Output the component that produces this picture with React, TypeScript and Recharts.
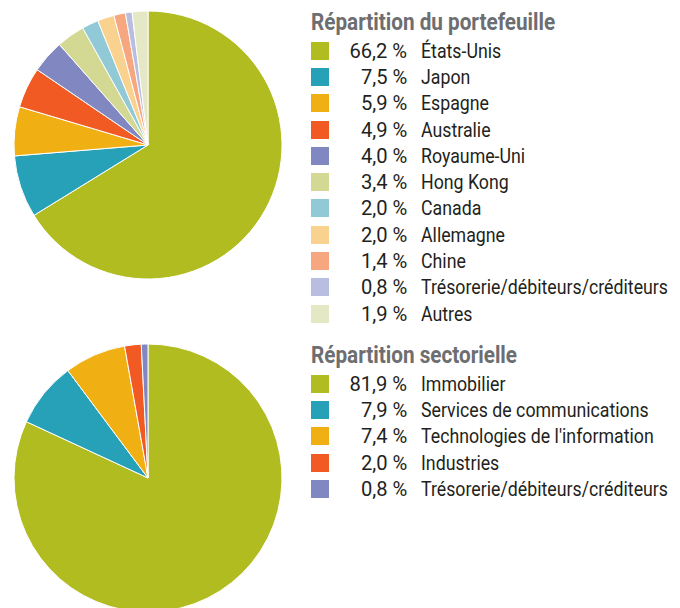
import { PieChart, Pie, Cell } from "recharts";

const countryNames = [
  "États-Unis",
  "Japon",
  "Espagne",
  "Australie",
  "Royaume-Uni",
  "Hong Kong",
  "Canada",
  "Allemagne",
  "Chine",
  "Trésorerie/débiteurs/créditeurs",
  "Autres",
];
const countryValues = [66.2, 7.5, 5.9, 4.9, 4.0, 3.4, 2.0, 2.0, 1.4, 0.8, 1.9];
const countryColors = [
  "#B1BC21",
  "#27A1B8",
  "#F0B013",
  "#F15A22",
  "#8087C1",
  "#D3D892",
  "#91C9D7",
  "#F8D28E",
  "#F7A77F",
  "#B9BDE0",
  "#E5E8C4",
];

const sectorNames = [
  "Immobilier",
  "Services de communications",
  "Technologies de l'information",
  "Industries",
  "Trésorerie/débiteurs/créditeurs",
];
const sectorValues = [81.9, 7.9, 7.4, 2.0, 0.8];
const sectorColors = ["#B1BC21", "#27A1B8", "#F0B013", "#F15A22", "#8087C1"];

const countryData = countryNames.map((name, i) => ({ name, value: countryValues[i] }));
const sectorData = sectorNames.map((name, i) => ({ name, value: sectorValues[i] }));

const fmt = (v: number) => v.toFixed(1).replace(".", ",") + " %";

const FONT = "Roboto, sans-serif";

type LegendProps = {
  title: string;
  names: string[];
  values: number[];
  colors: string[];
  top: number;
};

// the original uses a condensed face, so squeeze Roboto horizontally
const LegendBlock = ({ title, names, values, colors, top }: LegendProps) => (
  <div style={{ position: "absolute", left: 311, top, fontFamily: FONT }}>
    <div
      style={{
        fontSize: 23,
        fontWeight: 700,
        color: "#6D6E71",
        height: 29.5,
        lineHeight: "29.5px",
        whiteSpace: "nowrap",
      }}
    >
      <span style={{ display: "inline-block", transform: "scaleX(0.9)", transformOrigin: "left center" }}>
        {title}
      </span>
    </div>
    {names.map((n, i) => (
      <div key={n} style={{ display: "flex", alignItems: "center", height: 26.3 }}>
        <div style={{ width: 18, height: 18, background: colors[i] }} />
        <div style={{ width: 78, textAlign: "right", fontSize: 21, color: "#231F20", whiteSpace: "nowrap" }}>
          <span style={{ display: "inline-block", transform: "scaleX(0.96)", transformOrigin: "right center" }}>
            {fmt(values[i])}
          </span>
        </div>
        <div style={{ marginLeft: 14, fontSize: 21, color: "#231F20", whiteSpace: "nowrap" }}>
          <span style={{ display: "inline-block", transform: "scaleX(0.845)", transformOrigin: "left center" }}>
            {n}
          </span>
        </div>
      </div>
    ))}
  </div>
);

export default function App() {
  return (
    <div style={{ position: "absolute", left: 0, top: 0, width: 680, height: 608, background: "#fff", overflow: "hidden" }}>
      <PieChart width={680} height={608} margin={{ top: 0, right: 0, bottom: 0, left: 0 }}>
        <Pie
          data={countryData}
          dataKey="value"
          nameKey="name"
          cx={148}
          cy={145}
          outerRadius={134}
          startAngle={90}
          endAngle={-270}
          stroke="#fff"
          strokeWidth={1}
          isAnimationActive={false}
        >
          {countryData.map((d, i) => (
            <Cell key={d.name} fill={countryColors[i]} />
          ))}
        </Pie>
        <Pie
          data={sectorData}
          dataKey="value"
          nameKey="name"
          cx={148}
          cy={478}
          outerRadius={134}
          startAngle={90}
          endAngle={-270}
          stroke="#fff"
          strokeWidth={1}
          isAnimationActive={false}
        >
          {sectorData.map((d, i) => (
            <Cell key={d.name} fill={sectorColors[i]} />
          ))}
        </Pie>
      </PieChart>
      <LegendBlock title="Répartition du portefeuille" names={countryNames} values={countryValues} colors={countryColors} top={8} />
      <LegendBlock title="Répartition sectorielle" names={sectorNames} values={sectorValues} colors={sectorColors} top={341} />
    </div>
  );
}
